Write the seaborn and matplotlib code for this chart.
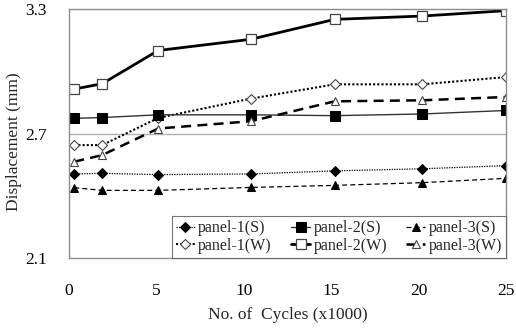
import matplotlib
matplotlib.use("Agg")
import matplotlib.pyplot as plt
import seaborn as sns
import pandas as pd

cycles = [0.3, 1.9, 5.1, 10.4, 15.2, 20.2, 25.0]
panel1_S = [2.505, 2.508, 2.502, 2.505, 2.52, 2.53, 2.545]
panel2_S = [2.773, 2.777, 2.79, 2.79, 2.786, 2.794, 2.811]
panel3_S = [2.439, 2.426, 2.426, 2.44, 2.45, 2.463, 2.484]
panel1_W = [2.644, 2.644, 2.775, 2.868, 2.937, 2.937, 2.972]
panel2_W = [2.914, 2.94, 3.10, 3.154, 3.25, 3.266, 3.292]
panel3_W = [2.564, 2.596, 2.724, 2.759, 2.855, 2.86, 2.876]

series_names = ["panel-1(S)", "panel-1(W)", "panel-2(S)", "panel-2(W)", "panel-3(S)", "panel-3(W)"]
series_vals = [panel1_S, panel1_W, panel2_S, panel2_W, panel3_S, panel3_W]
y_ticks = [2.1, 2.7, 3.3]
x_ticks = [0, 5, 10, 15, 20, 25]

sns.set_theme(style="white")
plt.rcParams["font.family"] = ["Liberation Serif", "DejaVu Serif"]

styles = {
    "panel-1(S)": dict(color="black", linestyle=(0, (1, 1)), linewidth=0.9, marker="D", markersize=5,
                       markerfacecolor="black", markeredgecolor="black"),
    "panel-1(W)": dict(color="black", linestyle=(0, (1, 1)), linewidth=1.5, marker="D", markersize=5,
                       markerfacecolor="white", markeredgecolor="#444444", markeredgewidth=0.8),
    "panel-2(S)": dict(color="#333333", linestyle="-", linewidth=1.0, marker="s", markersize=7,
                       markerfacecolor="black", markeredgecolor="black"),
    "panel-2(W)": dict(color="black", linestyle="-", linewidth=2.0, marker="s", markersize=7,
                       markerfacecolor="white", markeredgecolor="#444444", markeredgewidth=0.9),
    "panel-3(S)": dict(color="black", linestyle=(0, (4, 2.5)), linewidth=0.9, marker="^", markersize=6,
                       markerfacecolor="black", markeredgecolor="black"),
    "panel-3(W)": dict(color="black", linestyle=(0, (4, 2.5)), linewidth=1.8, marker="^", markersize=6,
                       markerfacecolor="white", markeredgecolor="#444444", markeredgewidth=0.8),
}

fig = plt.figure(figsize=(5.16, 3.28), dpi=100)
ax = fig.add_axes([69/516, 1-258/328, (506-69)/516, (258-9)/328])

for name, vals in zip(series_names, series_vals):
    df = pd.DataFrame({"x": cycles, "y": vals})
    sns.lineplot(data=df, x="x", y="y", ax=ax, label=name, **styles[name])

ax.set_xlim(0, 25)
ax.set_ylim(2.1, 3.3)
ax.set_xticks(x_ticks)
ax.set_yticks(y_ticks)
ax.set_yticklabels([f"{v:.1f}" for v in y_ticks])
ax.tick_params(axis="both", length=0, labelsize=12.5, colors="black")
ax.tick_params(axis="y", pad=16)
ax.tick_params(axis="x", pad=18)
ax.axhline(2.7, color="#b0b0b0", linewidth=1.0, zorder=0)
for s in ax.spines.values():
    s.set_color("#8c8c8c")
    s.set_linewidth(1.0)

ax.set_xlabel("No. of  Cycles (x1000)", fontsize=12.5, labelpad=6)
ax.set_ylabel("Displacement (mm)", fontsize=12.5)
ax.yaxis.set_label_coords(-0.108, 0.466)

leg = ax.legend(loc="lower right", ncol=3, fontsize=11.5, frameon=True, fancybox=False,
                handlelength=1.2, handletextpad=0.2, columnspacing=1.2, borderpad=0.25,
                labelspacing=0.1, borderaxespad=0.0)
leg.get_frame().set_edgecolor("#555555")
leg.get_frame().set_linewidth(0.8)

fig.savefig("out.png", dpi=100)
